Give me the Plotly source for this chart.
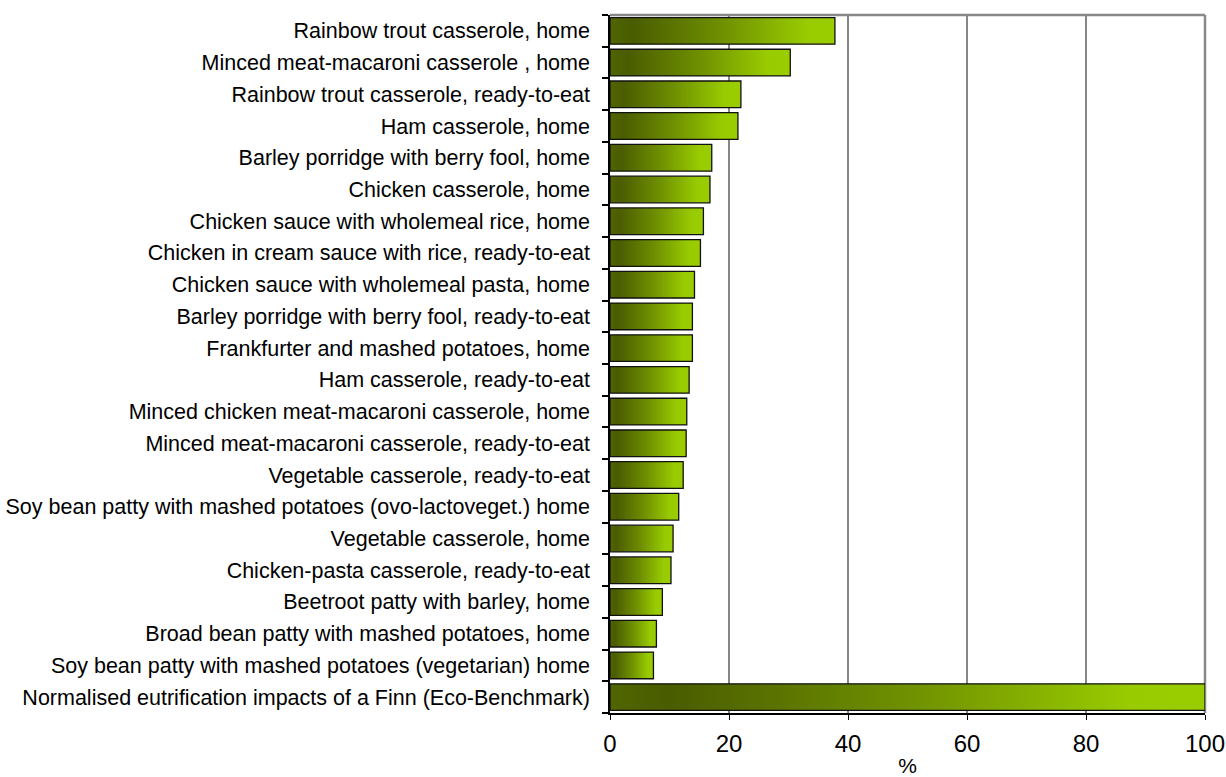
import plotly.graph_objects as go

# Meals, top to bottom, with the benchmark as the last row
categories = [
    "Rainbow trout casserole, home",
    "Minced meat-macaroni casserole , home",
    "Rainbow trout casserole, ready-to-eat",
    "Ham casserole, home",
    "Barley porridge with berry fool, home",
    "Chicken casserole, home",
    "Chicken sauce with wholemeal rice, home",
    "Chicken in cream sauce with rice, ready-to-eat",
    "Chicken sauce with wholemeal pasta, home",
    "Barley porridge with berry fool, ready-to-eat",
    "Frankfurter and mashed potatoes, home",
    "Ham casserole, ready-to-eat",
    "Minced chicken meat-macaroni casserole, home",
    "Minced meat-macaroni casserole, ready-to-eat",
    "Vegetable casserole, ready-to-eat",
    "Soy bean patty with mashed potatoes (ovo-lactoveget.) home",
    "Vegetable casserole, home",
    "Chicken-pasta casserole, ready-to-eat",
    "Beetroot patty with barley, home",
    "Broad bean patty with mashed potatoes, home",
    "Soy bean patty with mashed potatoes (vegetarian) home",
    "Normalised eutrification impacts of a Finn (Eco-Benchmark)",
]

# Share of the benchmark, %
values = [37.8, 30.3, 22.0, 21.5, 17.1, 16.8, 15.7, 15.2, 14.2, 13.85, 13.85,
          13.3, 12.9, 12.8, 12.3, 11.55, 10.6, 10.25, 8.8, 7.8, 7.3, 100.0]

x_ticks = [0, 20, 40, 60, 80, 100]

FONT = "Liberation Sans, Arial, sans-serif"
HALF = 0.42  # half bar thickness in row units
GRADIENT = [[0.0, "#506500"], [0.1, "#4a5c00"], [0.5, "#6f9000"],
            [0.88, "#99cc00"], [1.0, "#9acd00"]]

fig = go.Figure()

for i, v in enumerate(values):
    fig.add_trace(go.Scatter(
        x=[0, v, v, 0, 0],
        y=[i - HALF, i - HALF, i + HALF, i + HALF, i - HALF],
        mode="lines",
        fill="toself",
        fillgradient=dict(type="horizontal", colorscale=GRADIENT, start=0, stop=v),
        line=dict(color="#111111", width=1.3),
        hoverinfo="text",
        text=f"{categories[i]}: {v}",
        showlegend=False,
    ))

# Grey frame on the top and right sides
fig.add_shape(type="line", xref="paper", yref="paper", x0=0, x1=1, y0=1, y1=1,
              line=dict(color="#888888", width=2.5), layer="below")
fig.add_shape(type="line", xref="paper", yref="paper", x0=1, x1=1, y0=0, y1=1,
              line=dict(color="#888888", width=2.5), layer="below")

n = len(categories)
fig.update_layout(
    width=1226, height=777,
    margin=dict(l=610, r=21, t=15, b=64),
    plot_bgcolor="white", paper_bgcolor="white",
    font=dict(family=FONT, color="black"),
    xaxis=dict(
        range=[0, 100],
        automargin=False,
        tickvals=x_ticks,
        ticktext=[str(t) for t in x_ticks],
        tickfont=dict(size=24),
        ticks="outside", ticklen=5, tickcolor="black", tickwidth=1,
        ticklabelstandoff=3,
        showline=True, linecolor="black", linewidth=1.5,
        showgrid=True, gridcolor="#868686", gridwidth=2,
        zeroline=False,
        title=dict(text="%", font=dict(size=21), standoff=3),
    ),
    yaxis=dict(
        range=[n - 0.5, -0.5],
        automargin=False,
        tickvals=list(range(n)),
        ticktext=categories,
        tickfont=dict(size=21.5),
        ticks="",
        ticklabelstandoff=14,
        minor=dict(tickvals=[k - 0.5 for k in range(n + 1)], ticks="outside",
                   ticklen=6, tickcolor="black", tickwidth=1.5),
        showline=True, linecolor="black", linewidth=1.5,
        showgrid=False, zeroline=False,
    ),
)

fig.write_html("out.html")
